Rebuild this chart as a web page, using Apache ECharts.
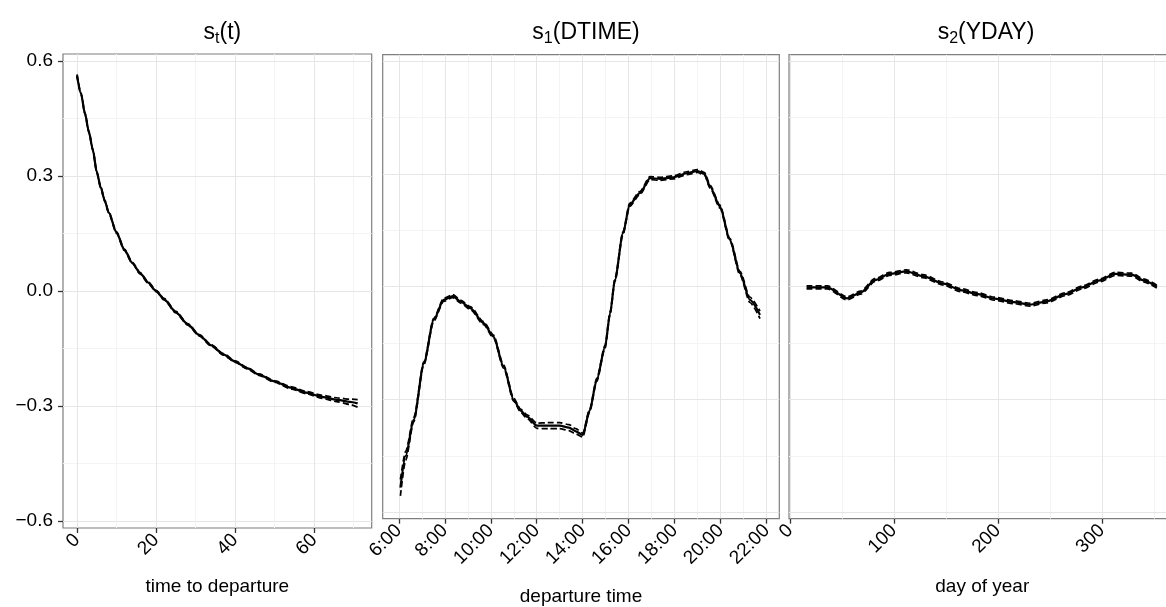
<!DOCTYPE html>
<html><head><meta charset="utf-8">
<script src="https://cdn.jsdelivr.net/npm/echarts@6/dist/echarts.min.js"></script>
<style>html,body{margin:0;padding:0;background:#fff}#c{width:1166px;height:607px}</style>
</head><body><div id="c"></div>
<script>
// ---------- Panel 1: s_t(t) ----------
const tTime = [0, 1, 2, 3, 4, 5, 6, 7, 8, 10, 12, 14, 16, 18, 20, 22, 25, 28, 31, 34, 37, 40, 43, 46, 50, 54, 58, 62, 66, 69, 71];
const tEst  = [0.562, 0.515, 0.463, 0.415, 0.368, 0.31, 0.27, 0.236, 0.205, 0.152, 0.107, 0.073, 0.046, 0.022, 0.0, -0.021, -0.055, -0.087, -0.116, -0.142, -0.165, -0.184, -0.201, -0.218, -0.236, -0.252, -0.265, -0.276, -0.284, -0.289, -0.293];
const tHalf = [0.003, 0.002, 0.002, 0.002, 0.002, 0.002, 0.002, 0.002, 0.002, 0.002, 0.002, 0.002, 0.002, 0.002, 0.002, 0.002, 0.002, 0.002, 0.002, 0.002, 0.002, 0.002, 0.002, 0.002, 0.002, 0.003, 0.003, 0.004, 0.005, 0.007, 0.010];
const tTicks = [0, 20, 40, 60];
const tTickLabels = ['0', '20', '40', '60'];
const tMinor = [10, 30, 50, 70];

// ---------- Panel 2: s_1(DTIME) (hours) ----------
const dHour = [6.07, 6.3, 6.65, 7.09, 7.52, 7.95, 8.35, 8.7, 9.11, 9.69, 10.12, 10.56, 11.0, 11.3, 11.58, 12.01, 12.5, 13.0, 13.4, 13.7, 14.0, 14.3, 14.61, 14.97, 15.19, 15.4, 15.75, 16.04, 16.48, 16.93, 17.36, 17.94, 18.52, 19.0, 19.3, 19.54, 19.97, 20.4, 20.84, 21.27, 21.71];
const dEst  = [-0.535, -0.45, -0.354, -0.204, -0.088, -0.035, -0.025, -0.04, -0.057, -0.097, -0.133, -0.213, -0.301, -0.33, -0.346, -0.37, -0.37, -0.37, -0.375, -0.385, -0.395, -0.33, -0.248, -0.16, -0.071, 0.018, 0.142, 0.218, 0.249, 0.289, 0.287, 0.291, 0.302, 0.308, 0.30, 0.266, 0.213, 0.125, 0.036, -0.035, -0.075];
const dHalf = [0.022, 0.012, 0.006, 0.004, 0.004, 0.004, 0.004, 0.004, 0.004, 0.004, 0.004, 0.004, 0.004, 0.004, 0.005, 0.007, 0.008, 0.008, 0.008, 0.007, 0.005, 0.004, 0.004, 0.004, 0.004, 0.004, 0.004, 0.004, 0.004, 0.004, 0.004, 0.004, 0.004, 0.004, 0.004, 0.004, 0.004, 0.004, 0.005, 0.007, 0.010];
const dTicks = [6, 8, 10, 12, 14, 16, 18, 20, 22];
const dTickLabels = ['6:00', '8:00', '10:00', '12:00', '14:00', '16:00', '18:00', '20:00', '22:00'];
const dMinor = [7, 9, 11, 13, 15, 17, 19, 21];

// ---------- Panel 3: s_2(YDAY) ----------
const yDay  = [16, 36, 55, 68, 82, 96, 112, 128, 148, 164, 181, 197, 215, 231, 247, 265, 281, 297, 313, 329, 340, 353];
const yEst  = [-0.002, -0.002, -0.031, -0.016, 0.018, 0.034, 0.041, 0.028, 0.008, -0.009, -0.02, -0.032, -0.041, -0.048, -0.039, -0.02, -0.002, 0.016, 0.034, 0.032, 0.017, 0.0];
const yHalf = [0.004, 0.004, 0.004, 0.004, 0.004, 0.004, 0.004, 0.004, 0.004, 0.004, 0.004, 0.004, 0.004, 0.004, 0.004, 0.004, 0.004, 0.004, 0.004, 0.004, 0.004, 0.004];
const yTicksX = [0, 100, 200, 300];
const yTickLabelsX = ['0', '100', '200', '300'];
const yMinorX = [50, 150, 250, 350];

// ---------- shared value axis ----------
const vTicks = [-0.6, -0.3, 0, 0.3, 0.6];
const vTickLabels = ['\u22120.6', '\u22120.3', '0.0', '0.3', '0.6'];
const vMinor = [-0.45, -0.15, 0.15, 0.45];

const FONT = 'Liberation Sans, Arial, Helvetica, sans-serif';

const panels = [
  {title: 's{sub|t}(t)', name: 'time to departure', x: tTime, est: tEst, half: tHalf,
   ticks: tTicks, labels: tTickLabels, minor: tMinor, xmin: -3.55, xmax: 74.55,
   ymin: -0.618, ymax: 0.618, grid: {left: 63, top: 54, width: 308.7, height: 474}, nameGap: 49, showY: true},
  {title: 's{sub|1}(DTIME)', name: 'departure time', x: dHour, est: dEst, half: dHalf,
   ticks: dTicks, labels: dTickLabels, minor: dMinor, xmin: 5.30, xmax: 22.55,
   ymin: -0.6175, ymax: 0.6175, grid: {left: 382.7, top: 54.7, width: 396.6, height: 464}, nameGap: 69, showY: false},
  {title: 's{sub|2}(YDAY)', name: 'day of year', x: yDay, est: yEst, half: yHalf,
   ticks: yTicksX, labels: yTickLabelsX, minor: yMinorX, xmin: -0.9, xmax: 370.9,
   ymin: -0.6175, ymax: 0.6175, grid: {left: 789, top: 54.7, width: 386.5, height: 464}, nameGap: 59, showY: false}
];

const grids = [], xAxes = [], yAxes = [], series = [], titles = [];
const majorColor = '#e6e6e6', minorColor = '#f4f4f4';

panels.forEach((p, i) => {
  grids.push(Object.assign({show: true, borderColor: '#7f7f7f', borderWidth: 1.2, backgroundColor: 'transparent',
    containLabel: false, outerBoundsMode: 'none'}, p.grid));
  const lab = (ticks, labels) => (v) => { const k = ticks.findIndex(t => Math.abs(t - v) < 1e-9); return k >= 0 ? labels[k] : ''; };
  // major x
  xAxes.push({type: 'value', gridIndex: i, min: p.xmin, max: p.xmax, position: 'bottom',
    name: p.name, nameLocation: 'middle', nameGap: p.nameGap,
    nameTextStyle: {fontFamily: FONT, fontSize: 19, color: '#000'},
    axisLine: {show: false, onZero: false},
    axisTick: {show: true, length: 5, customValues: p.ticks, lineStyle: {color: '#333', width: 1.3}},
    axisLabel: {show: true, customValues: p.ticks, rotate: 45, margin: 9, fontFamily: FONT, fontSize: 19, color: '#000',
      formatter: lab(p.ticks, p.labels)},
    splitLine: {show: true, lineStyle: {color: majorColor, width: 1}}, z: 2});
  // minor x
  xAxes.push({type: 'value', gridIndex: i, min: p.xmin, max: p.xmax, position: 'bottom',
    axisLine: {show: false, onZero: false}, axisLabel: {show: false},
    axisTick: {show: false, customValues: p.minor},
    splitLine: {show: true, lineStyle: {color: minorColor, width: 1}}, z: 1});
  // major y
  yAxes.push({type: 'value', gridIndex: i, min: p.ymin, max: p.ymax, position: 'left',
    axisLine: {show: false, onZero: false},
    axisTick: {show: p.showY, length: 5, customValues: vTicks, lineStyle: {color: '#333', width: 1.3}},
    axisLabel: {show: p.showY, customValues: vTicks, margin: 10, fontFamily: FONT, fontSize: 19, color: '#000',
      formatter: lab(vTicks, vTickLabels)},
    splitLine: {show: true, lineStyle: {color: majorColor, width: 1}}, z: 2});
  // minor y
  yAxes.push({type: 'value', gridIndex: i, min: p.ymin, max: p.ymax, position: 'left',
    axisLine: {show: false, onZero: false}, axisLabel: {show: false},
    axisTick: {show: false, customValues: vMinor},
    splitLine: {show: true, lineStyle: {color: minorColor, width: 1}}, z: 1});

  const est = p.x.map((x, k) => [x, p.est[k]]);
  const lo = p.x.map((x, k) => [x, p.est[k] - p.half[k]]);
  const hi = p.x.map((x, k) => [x, p.est[k] + p.half[k]]);
  const base = {type: 'line', xAxisIndex: 2 * i, yAxisIndex: 2 * i, showSymbol: false, symbol: 'none',
    smooth: 0.25, smoothMonotone: 'x', silent: true, z: 5};
  series.push(Object.assign({}, base, {data: lo, lineStyle: {color: '#000', width: 1.7, type: [6, 3]}}));
  series.push(Object.assign({}, base, {data: hi, lineStyle: {color: '#000', width: 1.7, type: [6, 3]}}));
  series.push(Object.assign({}, base, {data: est, lineStyle: {color: '#000', width: 2.2}}));

  titles.push({text: p.title, left: p.grid.left + p.grid.width / 2, top: 14, textAlign: 'center',
    textStyle: {fontFamily: FONT, fontSize: 23, fontWeight: 'normal', color: '#000', lineHeight: 28,
      rich: {sub: {fontFamily: FONT, fontSize: 16, color: '#000', lineHeight: 28, verticalAlign: 'bottom'}}}});
});
// panel 3 title is centred on the visible part of the panel in the reference
titles[2].left = 981;

const chart = echarts.init(document.getElementById('c'), null, {renderer: 'canvas'});
chart.setOption({
  animation: false,
  backgroundColor: '#fff',
  textStyle: {fontFamily: FONT},
  title: titles,
  grid: grids,
  xAxis: xAxes,
  yAxis: yAxes,
  series: series
});
</script>
</body></html>
